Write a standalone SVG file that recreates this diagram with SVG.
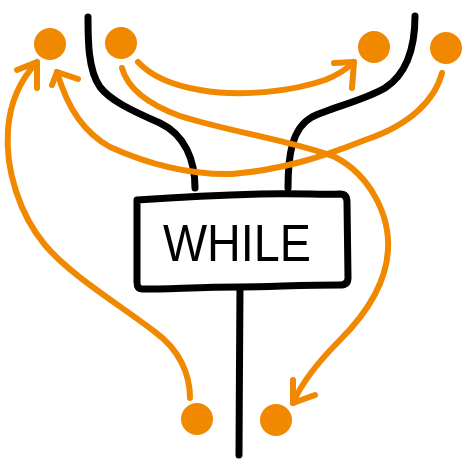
<svg xmlns="http://www.w3.org/2000/svg" width="464" height="460" viewBox="0 0 464 460">
<style>
.flow{fill:none;stroke:#000;stroke-width:7;stroke-linecap:round;stroke-linejoin:round}
.arc{fill:none;stroke:#f08800;stroke-width:6;stroke-linecap:round;stroke-linejoin:round}
.dot{fill:#f08800}
.box{fill:#fff;stroke:#000;stroke-width:7;stroke-linejoin:round}
.label{font-family:"Liberation Sans",Arial,sans-serif;font-size:52px;fill:#000}
</style>
<rect width="464" height="460" fill="#fff"/>
<g id="connectors">
<path class="flow" d="M88,17 C88,40 88,70 100,87 C110,100 130,110 160,123 C185,135 195,160 195,188"/>
<path class="flow" d="M415,16 C415,50 405,75 385,88 C365,100 330,108 312,117 C292,128 288,155 288,188"/>
<path class="flow" d="M240,287 C240,340 239,400 239,455"/>
<path class="arc" d="M190,398 C190,375 180,350 155,332 C120,305 70,275 45,245 C20,215 5,170 8,130 C10,100 22,78 37,62"/>
<path class="arc" d="M17,70 L37,62 L37,88"/>
<path class="arc" d="M442,73 C435,100 410,125 365,140 C320,158 280,170 232,174 C190,175 150,165 110,147 C85,133 68,110 57,72"/>
<path class="arc" d="M78,79 L57,72 L52,85"/>
<path class="arc" d="M138,62 C150,75 170,85 200,90 C240,97 290,92 325,80 C340,74 348,68 354,62"/>
<path class="arc" d="M334,63 L354,62 L352,88"/>
<path class="arc" d="M122,68 C128,90 150,105 180,116 C230,132 290,140 335,157 C370,175 390,215 388,250 C386,285 365,315 340,340 C318,362 302,382 293,403"/>
<path class="arc" d="M293,380 L293,403 L315,395"/>
</g>
<g id="while">
<path class="box" d="M137,200 C180,197 220,195 260,194 C300,193 320,195 340,194 Q347,194 347,202 L348,278 Q348,285 340,285 C300,285 270,287 240,287 C200,287 170,289 142,289 Q137,289 137,282 Z"/>
<text class="label" x="163" y="261" textLength="148" lengthAdjust="spacingAndGlyphs">WHILE</text>
</g>
<g id="dot-top-1"><circle class="dot" cx="50" cy="44" r="16"/></g>
<g id="dot-top-2"><circle class="dot" cx="121" cy="43" r="16"/></g>
<g id="dot-top-3"><circle class="dot" cx="374" cy="47" r="16"/></g>
<g id="dot-top-4"><circle class="dot" cx="446" cy="48" r="16"/></g>
<g id="dot-bottom-1"><circle class="dot" cx="197" cy="419" r="16"/></g>
<g id="dot-bottom-2"><circle class="dot" cx="276" cy="420" r="16"/></g>
</svg>
